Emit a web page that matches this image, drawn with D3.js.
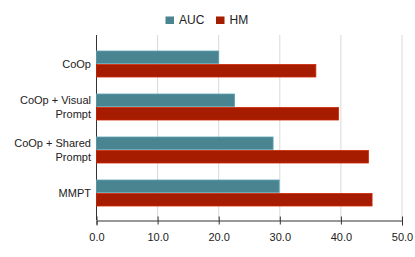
<!DOCTYPE html>
<html><head><meta charset="utf-8">
<script src="https://cdn.jsdelivr.net/npm/d3@7"></script>
<style>body{margin:0;background:#fff}svg{display:block;font-family:"Liberation Sans",Arial,sans-serif}</style>
</head><body><svg id="c" width="415" height="257"></svg>
<script>
const categories = [["CoOp"], ["CoOp + Visual", "Prompt"], ["CoOp + Shared", "Prompt"], ["MMPT"]];
const seriesNames = ["AUC", "HM"];
const aucValues = [20.0, 22.6, 28.9, 29.9];
const hmValues = [35.9, 39.6, 44.5, 45.1];
const tickValues = [0, 10, 20, 30, 40, 50];
const colors = ["#4a8491", "#a61c00"];

const svg = d3.select("#c");
const x = d3.scaleLinear().domain([0, 50]).range([96.5, 402]);
const y = d3.scaleBand().domain(d3.range(categories.length)).range([42.5, 214.5]).paddingInner(0).paddingOuter(0);
const sub = d3.scaleBand().domain(seriesNames).range([-13, 13]).paddingInner(0.08);

// gridlines
svg.append("g").selectAll("line").data(tickValues.slice(1)).join("line")
  .attr("x1", d => x(d)).attr("x2", d => x(d)).attr("y1", 35).attr("y2", 220)
  .attr("stroke", "#d9d9d9").attr("stroke-width", 1);
// left axis line
svg.append("line").attr("x1", x(0)).attr("x2", x(0)).attr("y1", 35).attr("y2", 220)
  .attr("stroke", "#333").attr("stroke-width", 1);

const data = [aucValues, hmValues];
data.forEach((vals, si) => {
  svg.append("g").selectAll("rect").data(vals).join("rect")
    .attr("x", x(0))
    .attr("y", (d, i) => y(i) + y.bandwidth() / 2 + sub(seriesNames[si]))
    .attr("width", d => x(d) - x(0))
    .attr("height", sub.bandwidth())
    .attr("fill", colors[si])
    .attr("stroke", d3.color(colors[si]).brighter(0.6))
    .attr("stroke-width", 0.8);
});

// bottom axis
const ax = svg.append("g").attr("transform", "translate(0,220.5)")
  .call(d3.axisBottom(x).tickValues(tickValues).tickFormat(d3.format(".1f")).tickSizeOuter(0).tickSize(5).tickPadding(8));
ax.select(".domain").attr("stroke", "#333");
ax.selectAll(".tick line").attr("stroke", "#333").attr("y1", -4).attr("y2", 4);
ax.selectAll("text").attr("font-size", 11).attr("fill", "#222").attr("font-family", "Liberation Sans, Arial, sans-serif");

// category labels
const lab = svg.append("g").selectAll("text").data(categories).join("text")
  .attr("text-anchor", "end").attr("font-size", 11).attr("fill", "#222")
  .attr("transform", (d, i) => `translate(91,${y(i) + y.bandwidth() / 2})`);
lab.each(function(lines) {
  const t = d3.select(this);
  const n = lines.length;
  lines.forEach((l, k) => {
    t.append("tspan").attr("x", 0).attr("y", (k - (n - 1) / 2) * 13.4 + 4).text(l);
  });
});

// legend
const leg = svg.append("g");
const legX = [165.5, 216];
seriesNames.forEach((s, i) => {
  leg.append("rect").attr("x", legX[i]).attr("y", 16.5).attr("width", 8.5).attr("height", 7.5).attr("fill", colors[i]);
  leg.append("text").attr("x", legX[i] + 13.5).attr("y", 24.3).attr("font-size", 12).attr("fill", "#222").text(s);
});
</script></body></html>
